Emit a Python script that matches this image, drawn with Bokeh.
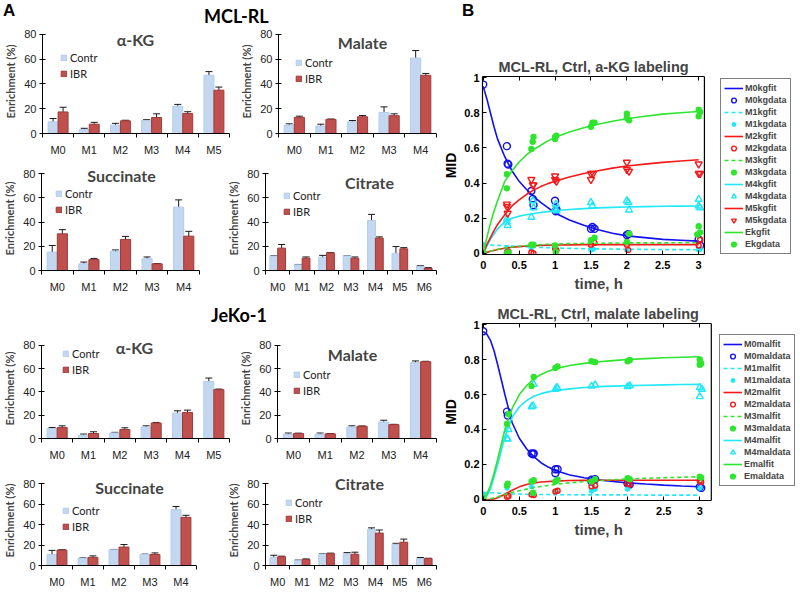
from bokeh.plotting import figure
from bokeh.models import (ColumnDataSource, FixedTicker, Whisker, TeeHead, Legend,
                          LegendItem, Label, Div, Range1d, PrintfTickFormatter,
                          Span, Title, LinearAxis)
from bokeh.layouts import row, column
from bokeh.embed import file_html
from bokeh.resources import INLINE

# ---------------- Panel A data (enrichment, %) ----------------
ISO5 = ["M0", "M1", "M2", "M3", "M4"]
ISO6 = ["M0", "M1", "M2", "M3", "M4", "M5"]
ISO7 = ["M0", "M1", "M2", "M3", "M4", "M5", "M6"]

mcl_akg_contr = [9.4, 3.2, 6.7, 10.7, 22.0, 47.0]
mcl_akg_contr_err = [2.7, 1.0, 1.5, 0.6, 1.5, 3.0]
mcl_akg_ibr = [17.4, 7.5, 10.2, 12.9, 16.1, 35.0]
mcl_akg_ibr_err = [3.8, 1.5, 0.5, 3.0, 1.5, 2.5]

mcl_mal_contr = [6.8, 6.0, 9.5, 17.0, 61.0]
mcl_mal_contr_err = [1.0, 1.5, 1.0, 4.5, 6.0]
mcl_mal_ibr = [13.0, 11.4, 13.5, 14.4, 47.0]
mcl_mal_ibr_err = [1.0, 0.3, 1.0, 1.5, 1.5]

mcl_suc_contr = [15.2, 5.5, 16.0, 9.7, 52.4]
mcl_suc_contr_err = [5.5, 1.5, 1.0, 1.5, 6.0]
mcl_suc_ibr = [30.3, 9.0, 25.7, 5.5, 28.4]
mcl_suc_ibr_err = [3.5, 1.0, 2.5, 0.3, 4.0]

mcl_cit_contr = [11.9, 4.7, 11.0, 12.1, 41.4, 14.3, 3.6]
mcl_cit_contr_err = [0.3, 0.3, 1.5, 0.3, 5.0, 5.5, 0.5]
mcl_cit_ibr = [18.5, 10.2, 14.6, 10.2, 26.8, 17.9, 1.9]
mcl_cit_ibr_err = [3.0, 1.0, 0.3, 1.0, 1.0, 1.0, 0.5]

jeko_akg_contr = [8.5, 2.8, 4.8, 9.9, 21.8, 49.0]
jeko_akg_contr_err = [1.0, 1.0, 0.5, 1.0, 2.0, 3.0]
jeko_akg_ibr = [9.4, 4.3, 7.7, 13.3, 22.4, 42.0]
jeko_akg_ibr_err = [1.5, 1.5, 1.5, 0.5, 2.0, 0.5]

jeko_mal_contr = [3.7, 3.7, 9.9, 14.2, 65.2]
jeko_mal_contr_err = [1.0, 1.0, 1.0, 1.5, 1.5]
jeko_mal_ibr = [4.3, 4.0, 10.5, 11.9, 66.1]
jeko_mal_ibr_err = [0.3, 0.3, 0.3, 0.3, 0.3]

jeko_suc_contr = [10.8, 7.3, 15.4, 10.8, 54.7]
jeko_suc_contr_err = [4.0, 0.3, 0.3, 0.3, 3.0]
jeko_suc_ibr = [15.1, 7.9, 18.0, 10.8, 47.1]
jeko_suc_ibr_err = [0.3, 1.5, 2.5, 1.5, 2.0]

jeko_cit_contr = [8.0, 5.0, 11.3, 11.6, 35.3, 20.7, 6.8]
jeko_cit_contr_err = [2.0, 0.3, 0.3, 1.0, 1.5, 1.0, 1.0]
jeko_cit_ibr = [8.6, 5.9, 11.6, 11.0, 31.7, 22.8, 6.8]
jeko_cit_ibr_err = [0.5, 0.5, 0.5, 2.0, 3.0, 3.0, 0.3]

Y_TICKS_A = [0, 20, 40, 60, 80]

# ---------------- Panel B data (MID) ----------------
t_fit = [0, 0.05, 0.1, 0.15, 0.2, 0.3, 0.4, 0.5, 0.6, 0.7, 0.8, 0.9, 1.0,
         1.2, 1.4, 1.6, 1.8, 2.0, 2.25, 2.5, 2.75, 3.0]

M0kgfit = [0.95, 0.88, 0.80, 0.72, 0.65, 0.55, 0.47, 0.41, 0.365, 0.325, 0.29, 0.26, 0.23,
           0.19, 0.16, 0.135, 0.115, 0.10, 0.09, 0.08, 0.075, 0.07]
M1kgfit = [0.05, 0.049, 0.048, 0.047, 0.046, 0.044, 0.042, 0.04, 0.038, 0.036, 0.034, 0.033, 0.031,
           0.029, 0.027, 0.026, 0.025, 0.024, 0.023, 0.022, 0.022, 0.021]
M2kgfit = [0, 0.006, 0.012, 0.017, 0.022, 0.03, 0.035, 0.039, 0.042, 0.044, 0.046, 0.047, 0.048,
           0.049, 0.05, 0.05, 0.05, 0.05, 0.05, 0.05, 0.05, 0.05]
M3kgfit = [0, 0.007, 0.013, 0.018, 0.023, 0.031, 0.037, 0.041, 0.045, 0.048, 0.05, 0.052, 0.054,
           0.056, 0.057, 0.058, 0.059, 0.06, 0.06, 0.06, 0.061, 0.061]
M4kgfit = [0, 0.04, 0.08, 0.11, 0.14, 0.18, 0.2, 0.212, 0.22, 0.227, 0.233, 0.238, 0.243,
           0.25, 0.255, 0.259, 0.262, 0.264, 0.266, 0.268, 0.269, 0.27]
M5kgfit = [0, 0.05, 0.09, 0.13, 0.165, 0.22, 0.27, 0.305, 0.335, 0.36, 0.38, 0.397, 0.41,
           0.435, 0.455, 0.47, 0.485, 0.497, 0.508, 0.518, 0.526, 0.533]
Ekgfit = [0, 0.09, 0.17, 0.24, 0.3, 0.41, 0.47, 0.52, 0.56, 0.59, 0.615, 0.64, 0.66,
          0.69, 0.715, 0.735, 0.752, 0.766, 0.78, 0.792, 0.8, 0.807]

M0kg_t = [0, 0.33, 0.34, 0.35, 0.67, 0.69, 0.70, 1.0, 1.01, 1.02, 1.5, 1.52, 1.55, 2.0, 2.02, 3.0, 3.02]
M0kg_y = [0.96, 0.61, 0.51, 0.505, 0.355, 0.31, 0.275, 0.30, 0.24, 0.25, 0.14, 0.15, 0.14, 0.105, 0.11, 0.08, 0.045]
M1kg_t = [0, 0.33, 0.67, 1.0, 1.5, 1.53, 2.0, 3.0, 3.02]
M1kg_y = [0.05, 0.03, 0.03, 0.03, 0.02, 0.025, 0.02, 0.02, 0.025]
M2kg_t = [0, 0.33, 0.35, 0.67, 0.70, 1.0, 1.02, 1.5, 1.55, 2.0, 2.02, 3.0, 3.02]
M2kg_y = [0.005, 0.005, 0.01, 0.005, 0.0, 0.03, 0.02, 0.05, 0.06, 0.05, 0.02, 0.045, 0.078]
M3kg_t = [0.33, 0.35, 0.67, 0.70, 1.0, 1.01, 1.5, 1.55, 2.0, 2.03, 2.98, 3.0, 3.02]
M3kg_y = [0.0, 0.005, 0.05, 0.05, 0.045, 0.01, 0.075, 0.09, 0.065, 0.112, 0.108, 0.155, 0.12]
M4kg_t = [0.33, 0.33, 0.34, 0.67, 0.69, 0.70, 1.0, 1.01, 1.02, 1.5, 1.52, 2.0, 2.02, 2.03, 3.0, 3.0, 3.02]
M4kg_y = [0.196, 0.178, 0.159, 0.206, 0.30, 0.26, 0.25, 0.28, 0.243, 0.29, 0.27, 0.30, 0.29, 0.247, 0.308, 0.27, 0.26]
M5kg_t = [0.33, 0.33, 0.34, 0.67, 0.69, 0.70, 1.0, 1.0, 1.02, 1.5, 1.53, 1.5, 2.0, 2.0, 2.03, 3.0, 3.0, 3.02]
M5kg_y = [0.28, 0.267, 0.228, 0.42, 0.39, 0.39, 0.44, 0.42, 0.41, 0.454, 0.454, 0.42, 0.518, 0.477, 0.467, 0.508, 0.454, 0.454]
Ekg_t = [0, 0.33, 0.33, 0.67, 0.69, 0.70, 1.0, 1.0, 1.02, 1.5, 1.52, 1.55, 2.0, 2.0, 2.03, 3.0, 3.02, 3.0]
Ekg_y = [0.01, 0.45, 0.37, 0.594, 0.635, 0.663, 0.663, 0.65, 0.67, 0.72, 0.744, 0.744, 0.794, 0.77, 0.757, 0.817, 0.804, 0.78]

M0malfit = [0.96, 0.945, 0.91, 0.85, 0.77, 0.6, 0.44, 0.35, 0.29, 0.245, 0.21, 0.185, 0.165,
            0.14, 0.124, 0.112, 0.103, 0.095, 0.088, 0.082, 0.077, 0.073]
M1malfit = [0.04, 0.039, 0.038, 0.037, 0.036, 0.034, 0.032, 0.031, 0.03, 0.029, 0.028, 0.028, 0.027,
            0.027, 0.026, 0.026, 0.026, 0.026, 0.025, 0.025, 0.025, 0.025]
M2malfit = [0, 0, 0, 0.003, 0.01, 0.03, 0.053, 0.072, 0.085, 0.094, 0.1, 0.103, 0.105,
            0.108, 0.109, 0.11, 0.11, 0.11, 0.11, 0.11, 0.11, 0.11]
M3malfit = [0, 0.001, 0.004, 0.009, 0.015, 0.028, 0.04, 0.05, 0.059, 0.067, 0.074, 0.08, 0.086,
            0.095, 0.102, 0.108, 0.113, 0.117, 0.121, 0.124, 0.127, 0.13]
M4malfit = [0, 0.02, 0.06, 0.13, 0.2, 0.36, 0.47, 0.53, 0.565, 0.59, 0.605, 0.615, 0.622,
            0.632, 0.64, 0.645, 0.648, 0.651, 0.653, 0.655, 0.657, 0.658]
Emalfit = [0, 0.03, 0.08, 0.15, 0.23, 0.4, 0.52, 0.6, 0.65, 0.69, 0.715, 0.733, 0.747,
           0.766, 0.778, 0.787, 0.794, 0.8, 0.805, 0.81, 0.813, 0.816]

M0mal_t = [0, 0.33, 0.34, 0.67, 0.69, 0.70, 1.0, 1.0, 1.03, 1.5, 1.55, 1.5, 2.0, 2.03, 3.0, 3.02]
M0mal_y = [0.962, 0.502, 0.48, 0.263, 0.258, 0.263, 0.173, 0.15, 0.173, 0.113, 0.116, 0.103, 0.09, 0.085, 0.071, 0.066]
M1mal_t = [0, 0.33, 0.67, 1.0, 1.5, 1.55, 2.0, 3.0]
M1mal_y = [0.03, 0.066, 0.075, 0.047, 0.047, 0.06, 0.06, 0.064]
M2mal_t = [0.33, 0.35, 0.67, 0.70, 1.0, 1.03, 1.5, 1.55, 2.0, 2.03, 3.0, 3.02]
M2mal_y = [0.015, 0.02, 0.028, 0.025, 0.045, 0.05, 0.075, 0.08, 0.09, 0.085, 0.107, 0.10]
M3mal_t = [0.33, 0.34, 0.67, 0.69, 0.70, 1.0, 1.03, 1.5, 1.55, 2.0, 2.03, 3.0, 3.02]
M3mal_y = [0.08, 0.09, 0.103, 0.038, 0.11, 0.103, 0.113, 0.103, 0.116, 0.122, 0.116, 0.13, 0.125]
M4mal_t = [0, 0.33, 0.34, 0.35, 0.67, 0.69, 0.70, 1.0, 1.02, 1.03, 1.5, 1.55, 2.0, 2.03, 3.0, 3.0, 3.03]
M4mal_y = [0.0, 0.348, 0.345, 0.40, 0.53, 0.535, 0.658, 0.63, 0.64, 0.635, 0.648, 0.655, 0.645, 0.65, 0.64, 0.588, 0.63]
Emal_t = [0, 0.33, 0.35, 0.67, 0.70, 1.0, 1.03, 1.5, 1.55, 2.0, 2.03, 3.0, 3.02, 3.0]
Emal_y = [0.01, 0.432, 0.489, 0.648, 0.70, 0.752, 0.76, 0.79, 0.785, 0.79, 0.797, 0.80, 0.778, 0.77]

X_TICKS_B = [0, 0.5, 1, 1.5, 2, 2.5, 3]
Y_TICKS_B = [0, 0.2, 0.4, 0.6, 0.8, 1]

# ---------------- styles ----------------
CONTR_FILL = "#C3D8F0"
CONTR_LINE = "#B3CCEA"
IBR_FILL = "#C0504D"
IBR_LINE = "#9E3B39"
BLUE = "#1010F0"
CYAN = "#20E8F8"
RED = "#F41818"
GREEN = "#2EE52E"
TXT_FONT = "Lato"
TICK_FONT = "Liberation Sans"


def bar_chart(title, cats, contr, contr_err, ibr, ibr_err, width, height, y_end,
              mb_left, mb_right, mb_top, mb_bottom, title_xy, legend_xy):
    n = len(cats)
    idx = list(range(n))
    p = figure(width=width, height=height, x_range=Range1d(-0.5, n - 0.5),
               y_range=Range1d(0, y_end), output_backend="svg", toolbar_location=None,
               min_border_left=mb_left, min_border_right=mb_right,
               min_border_top=mb_top, min_border_bottom=mb_bottom)
    p.outline_line_color = None
    p.grid.visible = False
    src = ColumnDataSource(dict(
        xc=[i - 0.16 for i in idx], xi=[i + 0.16 for i in idx],
        contr=contr, ibr=ibr,
        cu=[v + e for v, e in zip(contr, contr_err)], cl=[v - e for v, e in zip(contr, contr_err)],
        iu=[v + e for v, e in zip(ibr, ibr_err)], il=[v - e for v, e in zip(ibr, ibr_err)],
    ))
    rc = p.vbar(x="xc", top="contr", width=0.32, source=src, fill_color=CONTR_FILL,
                line_color=CONTR_LINE, line_width=1)
    ri = p.vbar(x="xi", top="ibr", width=0.32, source=src, fill_color=IBR_FILL,
                line_color=IBR_LINE, line_width=1)
    for base, up, lo in (("xc", "cu", "cl"), ("xi", "iu", "il")):
        w = Whisker(source=src, base=base, upper=up, lower=lo, line_color="#1a1a1a", line_width=1,
                    upper_head=TeeHead(size=7, line_color="#1a1a1a", line_width=1),
                    lower_head=TeeHead(size=7, line_color="#1a1a1a", line_width=1))
        p.add_layout(w)

    xa = p.below[0]
    xa.ticker = FixedTicker(ticks=idx, minor_ticks=[i - 0.5 for i in range(n + 1)])
    xa.major_label_overrides = {i: c for i, c in zip(idx, cats)}
    xa.major_tick_out = 0
    xa.major_tick_in = 0
    xa.minor_tick_out = 4
    xa.minor_tick_in = 0
    xa.minor_tick_line_color = "black"
    xa.axis_line_color = "black"
    xa.major_label_standoff = 6
    xa.major_label_text_font = TICK_FONT
    xa.major_label_text_font_size = "11px"
    xa.major_label_text_color = "#222222"

    ya = p.left[0]
    ya.ticker = FixedTicker(ticks=Y_TICKS_A)
    ya.bounds = (0, 80)
    ya.major_tick_out = 3
    ya.major_tick_in = 3
    ya.minor_tick_line_color = None
    ya.axis_line_color = "black"
    ya.major_tick_line_color = "black"
    ya.major_label_standoff = 3
    ya.major_label_text_font = TICK_FONT
    ya.major_label_text_font_size = "11px"
    ya.major_label_text_color = "#222222"
    ya.axis_label = "Enrichment (%)"
    ya.axis_label_text_font = TXT_FONT
    ya.axis_label_text_font_style = "bold"
    ya.axis_label_text_font_size = "11px"
    ya.axis_label_standoff = 4

    p.add_layout(Label(x=title_xy[0], y=title_xy[1], x_units="screen", y_units="screen",
                       text=title, text_font=TXT_FONT, text_font_style="bold",
                       text_font_size="16px", text_align="center", text_baseline="middle"))
    leg = Legend(items=[LegendItem(label="Contr", renderers=[rc]),
                        LegendItem(label="IBR", renderers=[ri])],
                 location=legend_xy, glyph_width=7, glyph_height=7, label_height=14,
                 spacing=2, padding=0, margin=0, border_line_color=None,
                 background_fill_alpha=0, label_text_font=TXT_FONT,
                 label_text_font_size="11px", label_standoff=3, label_text_color="#222222")
    p.add_layout(leg)
    return p


def mid_plot(title, box_x_end, frame_x_end, fits, datas, width, height, mb,
             title_offset, legend_xy):
    # the frame is wider than the MATLAB-style box so that the legend can sit beside it;
    # the box is drawn by bounded axis lines plus a vertical span on its right edge
    x0 = -0.01
    p = figure(width=width, height=height, x_range=Range1d(x0, frame_x_end),
               y_range=Range1d(-0.006, 1.006),
               output_backend="svg", toolbar_location=None,
               min_border_left=mb[0], min_border_right=mb[1],
               min_border_top=mb[2], min_border_bottom=mb[3])
    p.grid.visible = False
    p.outline_line_color = None
    p.title.text = title
    p.title.align = "left"
    p.title.offset = title_offset
    p.title.text_font = TICK_FONT
    p.title.text_font_size = "14.5px"
    p.title.text_font_style = "bold"
    p.title.standoff = 3

    bx = p.below[0]
    ly = p.left[0]
    for ax, ticks in ((bx, X_TICKS_B), (ly, Y_TICKS_B)):
        ax.ticker = FixedTicker(ticks=ticks)
        ax.formatter = PrintfTickFormatter(format="%g")
        ax.major_tick_in = 4
        ax.major_tick_out = 0
        ax.major_tick_line_color = "black"
        ax.minor_tick_line_color = None
        ax.axis_line_color = "black"
        ax.axis_line_width = 1.2
        ax.major_label_text_font = TICK_FONT
        ax.major_label_text_font_style = "bold"
        ax.major_label_text_font_size = "11px"
        ax.major_label_text_color = "black"
        ax.axis_label_text_font = TICK_FONT
        ax.axis_label_text_font_style = "bold"
        ax.axis_label_text_font_size = "14px"
        ax.axis_label_text_color = "black"
    bx.bounds = (x0, box_x_end)
    bx.major_label_standoff = 6
    ly.axis_label = "MID"
    ly.major_label_standoff = 3
    ly.axis_label_standoff = 2

    top_ax = LinearAxis(ticker=FixedTicker(ticks=[], minor_ticks=X_TICKS_B),
                        bounds=(x0, box_x_end), major_tick_in=0, major_tick_out=0,
                        minor_tick_in=4, minor_tick_out=0, minor_tick_line_color="black",
                        axis_line_color="black", axis_line_width=1.2,
                        major_label_standoff=0)
    p.add_layout(top_ax, "above")
    p.add_layout(Span(location=box_x_end, dimension="height", line_color="black",
                      line_width=1.2))
    p.add_layout(Title(text="time, h", align="left", offset=92, text_font=TICK_FONT,
                       text_font_size="15px", text_font_style="bold", standoff=2), "below")

    items = []
    for (flabel, fy, fcolor, fdash), (dlabel, dt, dy, marker, dcolor, dsize, filled) in zip(fits, datas):
        rf = p.line(t_fit, fy, line_color=fcolor, line_width=1.6, line_dash=fdash)
        rd = p.scatter(dt, dy, marker=marker, size=dsize, line_color=dcolor, line_width=1.4,
                       fill_color=dcolor if filled else None)
        items.append(LegendItem(label=flabel, renderers=[rf]))
        items.append(LegendItem(label=dlabel, renderers=[rd]))
    leg = Legend(items=items, location=legend_xy, glyph_width=19, glyph_height=12,
                 label_height=12, spacing=0, padding=3, margin=0,
                 border_line_color="black", border_line_width=1.2,
                 background_fill_color="white", label_text_font=TICK_FONT,
                 label_text_font_style="bold", label_text_font_size="9px",
                 label_standoff=2)
    p.add_layout(leg)
    return p


# ---------------- Panel A ----------------
a11 = bar_chart("α-KG", ISO6, mcl_akg_contr, mcl_akg_contr_err, mcl_akg_ibr, mcl_akg_ibr_err,
                236, 139, 84, 42, 7, 2, 33, (93, 94), (18, 53))
a12 = bar_chart("Malate", ISO5, mcl_mal_contr, mcl_mal_contr_err, mcl_mal_ibr, mcl_mal_ibr_err,
                204, 139, 84, 42, 4, 2, 33, (84, 91), (17, 48))
a21 = bar_chart("Succinate", ISO5, mcl_suc_contr, mcl_suc_contr_err, mcl_suc_ibr, mcl_suc_ibr_err,
                224, 134, 86, 39, 25, 0, 30, (80, 95), (14, 54))
a22 = bar_chart("Citrate", ISO7, mcl_cit_contr, mcl_cit_contr_err, mcl_cit_ibr, mcl_cit_ibr_err,
                216, 134, 86, 37, 4, 0, 30, (104, 88), (18, 52))
a31 = bar_chart("α-KG", ISO6, jeko_akg_contr, jeko_akg_contr_err, jeko_akg_ibr, jeko_akg_ibr_err,
                236, 137, 86, 39, 7, 0, 37, (93, 91), (21, 62))
a32 = bar_chart("Malate", ISO5, jeko_mal_contr, jeko_mal_contr_err, jeko_mal_ibr, jeko_mal_ibr_err,
                204, 137, 86, 41, 4, 0, 37, (75, 84), (16, 41))
a41 = bar_chart("Succinate", ISO5, jeko_suc_contr, jeko_suc_contr_err, jeko_suc_ibr, jeko_suc_ibr_err,
                224, 115, 88, 37, 28, 0, 24, (88, 78), (21, 32))
a42 = bar_chart("Citrate", ISO7, jeko_cit_contr, jeko_cit_contr_err, jeko_cit_ibr, jeko_cit_ibr_err,
                216, 115, 88, 37, 4, 0, 24, (94, 82), (20, 40))

DIV_STYLE = {"overflow": "visible"}
hdr_a = Div(text=('<div style="position:relative;width:440px;height:27px;">'
                  '<span style="position:absolute;left:3px;top:1px;font:bold 17px \'Liberation Sans\';line-height:19px;">A</span>'
                  '<span style="position:absolute;left:204px;top:6px;font:bold 18px Lato;line-height:20px;">MCL-RL</span>'
                  '</div>'), width=440, height=27, margin=0, styles=DIV_STYLE)
hdr_j = Div(text=('<div style="position:relative;width:440px;height:38px;">'
                  '<span style="position:absolute;left:211px;top:5px;font:bold 18px Lato;line-height:20px;">JeKo-1</span>'
                  '</div>'), width=440, height=38, margin=0, styles=DIV_STYLE)

left_col = column(hdr_a, row(a11, a12), row(a21, a22), hdr_j, row(a31, a32), row(a41, a42),
                  width=440)

# ---------------- Panel B ----------------
kg_fits = [("M0kgfit", M0kgfit, BLUE, "solid"), ("M1kgfit", M1kgfit, CYAN, "4 3"),
           ("M2kgfit", M2kgfit, RED, "solid"), ("M3kgfit", M3kgfit, GREEN, "4 3"),
           ("M4kgfit", M4kgfit, CYAN, "solid"), ("M5kgfit", M5kgfit, RED, "solid"),
           ("Ekgfit", Ekgfit, GREEN, "solid")]
kg_data = [("M0kgdata", M0kg_t, M0kg_y, "circle", BLUE, 7, False),
           ("M1kgdata", M1kg_t, M1kg_y, "asterisk", CYAN, 6, False),
           ("M2kgdata", M2kg_t, M2kg_y, "circle", RED, 5, False),
           ("M3kgdata", M3kg_t, M3kg_y, "circle", GREEN, 5, True),
           ("M4kgdata", M4kg_t, M4kg_y, "triangle", CYAN, 7, False),
           ("M5kgdata", M5kg_t, M5kg_y, "inverted_triangle", RED, 7, False),
           ("Ekgdata", Ekg_t, Ekg_y, "circle", GREEN, 5, True)]
mal_fits = [("M0malfit", M0malfit, BLUE, "solid"), ("M1malfit", M1malfit, CYAN, "4 3"),
            ("M2malfit", M2malfit, RED, "solid"), ("M3malfit", M3malfit, GREEN, "4 3"),
            ("M4malfit", M4malfit, CYAN, "solid"), ("Emalfit", Emalfit, GREEN, "solid")]
mal_data = [("M0maldata", M0mal_t, M0mal_y, "circle", BLUE, 7, False),
            ("M1maldata", M1mal_t, M1mal_y, "asterisk", CYAN, 6, False),
            ("M2maldata", M2mal_t, M2mal_y, "circle", RED, 5, False),
            ("M3maldata", M3mal_t, M3mal_y, "circle", GREEN, 5, True),
            ("M4maldata", M4mal_t, M4mal_y, "triangle", CYAN, 7, False),
            ("Emaldata", Emal_t, Emal_y, "circle", GREEN, 5, True)]

b1 = mid_plot("MCL-RL, Ctrl, a-KG labeling", 3.08, 4.39, kg_fits, kg_data, 358, 244,
              (39, 0, 28, 37), 16, (238, 0))
b2 = mid_plot("MCL-RL, Ctrl, malate labeling", 3.16, 4.368, mal_fits, mal_data, 358, 253,
              (39, 0, 31, 45), 15, (237, 14))

hdr_b = Div(text=('<div style="position:relative;width:358px;height:48px;">'
                  '<span style="position:absolute;left:22px;top:1px;font:bold 17px \'Liberation Sans\';line-height:19px;">B</span>'
                  '</div>'), width=358, height=48, margin=0, styles=DIV_STYLE)

right_col = column(hdr_b, b1, b2, width=358)

page = row(left_col, right_col)

open("out.html", "w").write(file_html(page, INLINE))
